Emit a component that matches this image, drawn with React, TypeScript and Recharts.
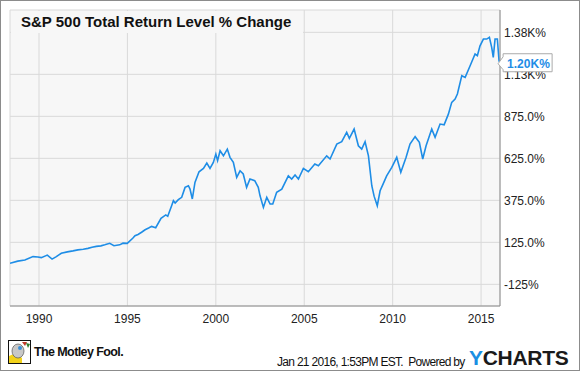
import React from "react";
import { LineChart, Line, XAxis, YAxis, CartesianGrid } from "recharts";

const years = [
  1988.36, 1988.8, 1989.2, 1989.66, 1989.94, 1990.13, 1990.47, 1990.74, 1990.98, 1991.26,
  1991.6, 1991.92, 1992.2, 1992.5, 1992.77, 1993.0, 1993.24, 1993.5, 1993.72, 1994.0,
  1994.24, 1994.56, 1994.75, 1994.99, 1995.3, 1995.43, 1995.6, 1995.8, 1996.0, 1996.2,
  1996.37, 1996.6, 1996.9, 1997.17, 1997.28, 1997.5, 1997.6, 1997.7, 1997.88, 1998.07,
  1998.26, 1998.45, 1998.54, 1998.67, 1998.82, 1999.05, 1999.3, 1999.49, 1999.67, 1999.86,
  2000.0, 2000.1, 2000.24, 2000.43, 2000.65, 2000.8, 2000.99, 2001.18, 2001.37, 2001.55,
  2001.74, 2001.93, 2002.2, 2002.4, 2002.5, 2002.69, 2002.88, 2003.07, 2003.22, 2003.44,
  2003.73, 2004.1, 2004.29, 2004.48, 2004.67, 2004.95, 2005.23, 2005.6, 2005.8, 2006.27,
  2006.46, 2006.84, 2007.12, 2007.4, 2007.55, 2007.82, 2008.06, 2008.25, 2008.44, 2008.63,
  2008.82, 2008.95, 2009.13, 2009.29, 2009.45, 2009.66, 2009.95, 2010.23, 2010.46, 2010.76,
  2010.98, 2011.27, 2011.51, 2011.7, 2011.89, 2012.21, 2012.4, 2012.68, 2012.91, 2013.15,
  2013.34, 2013.53, 2013.66, 2013.91, 2014.1, 2014.38, 2014.66, 2014.79, 2014.94, 2015.13,
  2015.32, 2015.47, 2015.6, 2015.69, 2015.79, 2015.92, 2016.02,
];

const returnPct = [
  0, 13, 20, 40, 38, 34, 49, 25, 40, 60,
  68, 74, 80, 84, 89, 96, 101, 104, 110, 119,
  105, 110, 120, 119, 149, 164, 172, 185, 200, 210,
  220, 212, 268, 288, 280, 343, 373, 359, 379, 393,
  452, 462, 442, 383, 482, 545, 565, 597, 565, 601,
  650, 611, 670, 640, 680, 631, 601, 512, 551, 532,
  452, 502, 492, 452, 402, 333, 393, 353, 353, 423,
  442, 521, 502, 526, 502, 565, 545, 591, 581, 640,
  621, 710, 724, 780, 744, 799, 700, 680, 724, 640,
  462, 400, 343, 432, 470, 521, 571, 631, 542, 631,
  710, 754, 720, 621, 700, 799, 750, 829, 825, 888,
  958, 978, 1008, 1117, 1107, 1176, 1246, 1236, 1295, 1335,
  1335, 1345, 1286, 1226, 1335, 1335, 1200,
];

const xTicks = [1990, 1995, 2000, 2005, 2010, 2015];
const yTicks = [-125, 125, 375, 625, 875, 1125, 1375];
const yTickLabels = ["-125%", "125.0%", "375.0%", "625.0%", "875.0%", "1.13K%", "1.38K%"];
const endLabel = "1.20K%";
const title = "S&P 500 Total Return Level % Change";

const data = years.map((t, i) => ({ t, v: returnPct[i] }));

const BLUE = "#1e8de6";
const FONT = "'Liberation Sans', Arial, sans-serif";

const EndLabel = (props: any) => {
  const { x, y, index } = props;
  if (index !== data.length - 1) return null;
  const d = `M ${x - 1} ${y + 2} L ${x + 4} ${y - 5} L ${x + 4} ${y - 8} L ${x + 53} ${y - 8} L ${x + 53} ${y + 10} L ${x + 4} ${y + 10} L ${x + 4} ${y + 8} Z`;
  return (
    <g>
      <path d={d} fill="#fff" stroke="#aaa" strokeWidth={1} />
      <text x={x + 8} y={y + 6} fill={BLUE} fontSize={12} fontWeight="bold" fontFamily={FONT}>
        {endLabel}
      </text>
    </g>
  );
};

const Logo = () => (
  <svg width={23} height={24} viewBox="0 0 23 24">
    <rect x={0.5} y={0.5} width={22} height={23} fill="#fff" stroke="#111" />
    <path d="M1 16 L8 13 L14 18 L14 23 L1 23 Z" fill="#f2d21b" />
    <ellipse cx={10} cy={11} rx={6} ry={7} fill="#c8c8c8" stroke="#555" strokeWidth={0.7} />
    <circle cx={12} cy={8} r={2} fill="#3a8fd8" />
    <path d="M14 2 L19 2 L17 6 Z" fill="#c0392b" />
    <path d="M18 3 L22 4 L20 8 Z" fill="#2e7d32" />
  </svg>
);

export default function App() {
  return (
    <div
      style={{
        position: "absolute",
        left: 0,
        top: 0,
        width: 580,
        height: 371,
        boxSizing: "border-box",
        border: "1px solid #8c8c8c",
        background: "#fff",
        fontFamily: FONT,
        overflow: "hidden",
      }}
    >
      <div style={{ position: "absolute", left: -1, top: -1 }}>
        <LineChart
          width={580}
          height={371}
          data={data}
          margin={{ top: 10, right: 0, bottom: 45, left: 10 }}
        >
          <CartesianGrid fill="#f7f7f7" stroke="#d9d9d9" strokeDasharray="" />
          <XAxis
            dataKey="t"
            type="number"
            domain={[1988.36, 2016.07]}
            allowDataOverflow
            ticks={xTicks}
            tickLine={false}
            tickSize={0}
            axisLine={{ stroke: "#8c8c8c" }}
            height={20}
            tickMargin={8}
            tick={{ fill: "#222", fontSize: 12, fontFamily: FONT }}
          />
          <XAxis
            xAxisId="top"
            orientation="top"
            dataKey="t"
            type="number"
            domain={[1988.36, 2016.07]}
            allowDataOverflow
            tick={false}
            tickLine={false}
            height={0}
            axisLine={{ stroke: "#8c8c8c" }}
          />
          <YAxis
            yAxisId="left"
            orientation="left"
            width={0}
            tick={false}
            tickLine={false}
            domain={[-254, 1508]}
            axisLine={{ stroke: "#8c8c8c" }}
          />
          <YAxis
            orientation="right"
            width={80}
            type="number"
            domain={[-254, 1508]}
            allowDataOverflow
            ticks={yTicks}
            tickFormatter={(v: number) => yTickLabels[yTicks.indexOf(v)]}
            tickLine={false}
            tickSize={0}
            axisLine={{ stroke: "#8c8c8c" }}
            tickMargin={4}
            tick={{ fill: "#222", fontSize: 12, fontFamily: FONT, textAnchor: "start" }}
          />
          <Line
            dataKey="v"
            type="linear"
            stroke={BLUE}
            strokeWidth={1.6}
            dot={false}
            isAnimationActive={false}
            label={<EndLabel />}
          />
        </LineChart>
      </div>
      <div
        style={{
          position: "absolute",
          left: 10,
          top: 10,
          width: 292,
          height: 22,
          background: "#f7f7f7",
          fontSize: 15,
          fontWeight: "bold",
          color: "#111",
          lineHeight: "22px",
          paddingLeft: 10,
          boxSizing: "border-box",
          whiteSpace: "nowrap",
        }}
      >
        {title}
      </div>
      <div style={{ position: "absolute", left: 7, top: 339, display: "flex", alignItems: "center" }}>
        <Logo />
        <span
          style={{
            marginLeft: 3,
            fontSize: 12.5,
            fontWeight: "bold",
            letterSpacing: -0.6,
            color: "#111",
          }}
        >
          The Motley Fool.
        </span>
      </div>
      <div
        style={{
          position: "absolute",
          left: 276,
          top: 354,
          fontSize: 12,
          letterSpacing: -0.7,
          color: "#111",
          whiteSpace: "nowrap",
        }}
      >
        Jan 21 2016, 1:53PM EST.&nbsp; Powered by
      </div>
      <div
        style={{
          position: "absolute",
          left: 468,
          top: 345,
          fontSize: 21,
          fontWeight: "bold",
          color: "#1a1a1a",
          whiteSpace: "nowrap",
          letterSpacing: -0.3,
        }}
      >
        <span style={{ color: "#1a8fe3" }}>Y</span>CHARTS
      </div>
    </div>
  );
}
